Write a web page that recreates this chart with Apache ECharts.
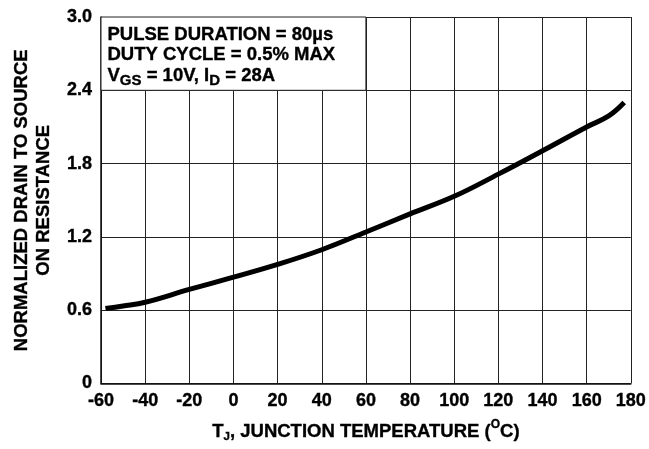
<!DOCTYPE html>
<html>
<head>
<meta charset="utf-8">
<script src="https://cdn.jsdelivr.net/npm/echarts@6/dist/echarts.min.js"></script>
<style>html,body{margin:0;padding:0;background:#fff}#c{width:649px;height:449px}</style>
</head>
<body>
<div id="c"></div>
<script>
// Data
var temps = [-58, -50, -40, -20, 0, 20, 40, 60, 80, 100, 120, 140, 160, 170, 177];
var rdson = [0.615, 0.635, 0.665, 0.77, 0.87, 0.975, 1.095, 1.24, 1.388, 1.532, 1.714, 1.905, 2.1, 2.19, 2.30];
var yTickLabels = ['0', '0.6', '1.2', '1.8', '2.4', '3.0'];
var xTickLabels = ['-60', '-40', '-20', '0', '20', '40', '60', '80', '100', '120', '140', '160', '180'];
var noteBox = [[-60, 3.0], [60, 2.4]];

var FONT = 'Liberation Sans, Arial, Helvetica, sans-serif';
var STROKE = {textBorderColor: '#000', textBorderWidth: 0.35};
function S(o) { return Object.assign({fontFamily: FONT, fontWeight: 'bold', color: '#000'}, STROKE, o); }

var chart = echarts.init(document.getElementById('c'), null, {renderer: 'canvas'});
var seriesData = temps.map(function (t, i) { return [t, rdson[i]]; });

chart.setOption({
  animation: false,
  backgroundColor: '#fff',
  grid: {left: 101, right: 17, top: 17, bottom: 58, containLabel: false},
  xAxis: {
    type: 'value', min: -60, max: 180, interval: 20,
    axisLine: {show: true, onZero: false, lineStyle: {color: '#111', width: 1.5}},
    axisTick: {show: false},
    splitLine: {show: true, lineStyle: {color: '#222', width: 1}},
    axisLabel: S({
      margin: 9, fontSize: 18,
      formatter: function (v) { return xTickLabels[Math.round((v + 60) / 20)]; }
    }),
    name: '{n|T}{s|J}{n|, JUNCTION TEMPERATURE (}{p|O}{n|C)}',
    nameLocation: 'middle', nameGap: 36,
    nameTextStyle: S({
      rich: {
        n: S({fontSize: 18.5, lineHeight: 24}),
        s: S({fontSize: 11.5, lineHeight: 24, padding: [11, 0, 0, 0]}),
        p: S({fontSize: 12, lineHeight: 24, padding: [0, 0, 13, 0]})
      }
    })
  },
  yAxis: {
    type: 'value', min: 0, max: 3.0, interval: 0.6,
    axisLine: {show: true, onZero: false, lineStyle: {color: '#111', width: 1.5}},
    axisTick: {show: false},
    splitLine: {show: true, lineStyle: {color: '#222', width: 1}},
    axisLabel: S({
      margin: 9, fontSize: 18,
      formatter: function (v) { return yTickLabels[Math.round(v / 0.6)]; }
    }),
    name: 'NORMALIZED DRAIN TO SOURCE\nON RESISTANCE',
    nameLocation: 'middle', nameGap: 46, nameRotate: 90,
    nameTextStyle: S({fontSize: 18.5, lineHeight: 22})
  },
  series: [{
    type: 'line',
    data: seriesData,
    smooth: 0.4,
    showSymbol: false,
    lineStyle: {color: '#000', width: 5, cap: 'butt'},
    markArea: {
      silent: true,
      itemStyle: {color: '#fff', borderColor: '#222', borderWidth: 1},
      label: {
        show: true, position: 'insideTopLeft', distance: 7, padding: [1, 0, 0, 0],
        formatter: '{a|PULSE DURATION = 80µs}\n{a|DUTY CYCLE = 0.5% MAX}\n{a|V}{s|GS}{a| = 10V, I}{s|D}{a| = 28A}',
        rich: {
          a: S({fontSize: 18.5, lineHeight: 20.5}),
          s: S({fontSize: 15, lineHeight: 20.5, padding: [11, 0, 0, 0]})
        }
      },
      data: [[{coord: noteBox[0]}, {coord: noteBox[1]}]]
    }
  }]
});
</script>
</body>
</html>
